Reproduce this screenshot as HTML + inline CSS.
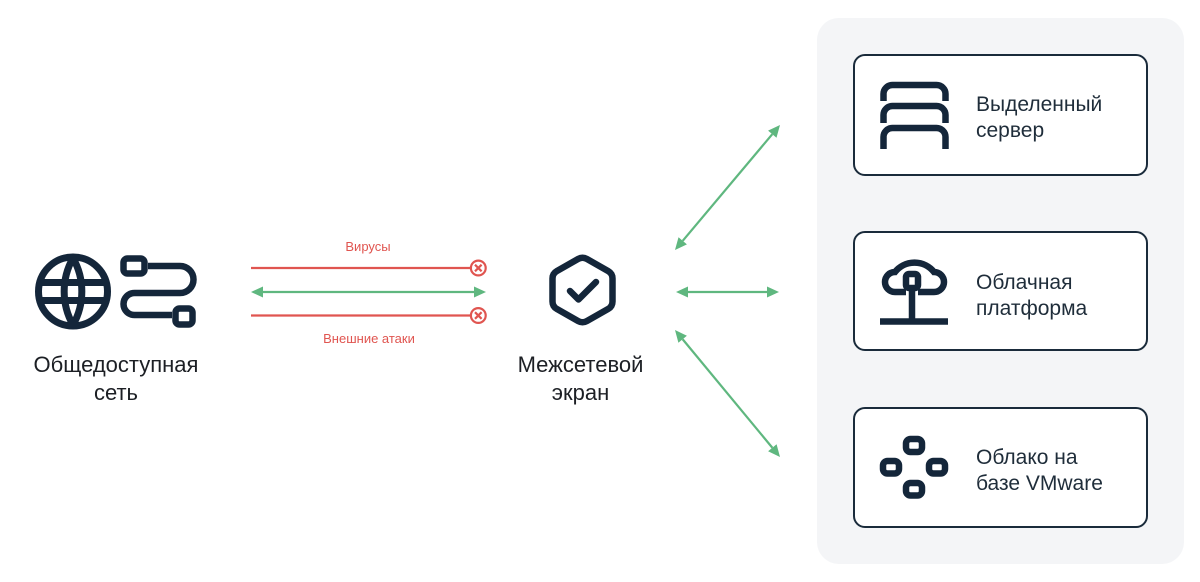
<!DOCTYPE html>
<html>
<head>
<meta charset="utf-8">
<style>
  html,body{margin:0;padding:0;background:#ffffff;}
  body{width:1200px;height:582px;overflow:hidden;}
  svg{display:block;}
  .lbl{font-family:"Liberation Sans","DejaVu Sans",sans-serif;font-size:22px;fill:#1c1f24;}
  .box{font-family:"Liberation Sans","DejaVu Sans",sans-serif;font-size:21px;fill:#1f2d3a;}
  .red{font-family:"Liberation Sans","DejaVu Sans",sans-serif;font-size:13px;fill:#e05550;}
</style>
</head>
<body>
<svg width="1200" height="582" viewBox="0 0 1200 582" xmlns="http://www.w3.org/2000/svg">
  <!-- right panel -->
  <rect x="817" y="18" width="367" height="546" rx="22" fill="#f4f5f7"/>
  <rect x="854" y="55" width="293" height="120" rx="11" fill="#ffffff" stroke="#1a2b3b" stroke-width="2"/>
  <rect x="854" y="232" width="293" height="118" rx="11" fill="#ffffff" stroke="#1a2b3b" stroke-width="2"/>
  <rect x="854" y="408" width="293" height="119" rx="11" fill="#ffffff" stroke="#1a2b3b" stroke-width="2"/>

  <g fill="none" stroke="#14263a" stroke-width="6.5">
    <!-- server icon -->
    <path d="M883.5,101 V94 A9,9 0 0 1 892.5,85 H936.5 A9,9 0 0 1 945.5,94 V101"/>
    <path d="M883.5,123 V115 A9,9 0 0 1 892.5,106 H936.5 A9,9 0 0 1 945.5,115 V123"/>
    <path d="M883.5,149 V137 A9,9 0 0 1 892.5,128 H936.5 A9,9 0 0 1 945.5,137 V149"/>
    <!-- cloud icon -->
    <path d="M906,292 H895 A10,10 0 0 1 895,272 A25,25 0 0 1 934,272 A10,10 0 0 1 934,292 H918"/>
    <rect x="906" y="274" width="12" height="14" rx="3"/>
    <path d="M912,291 V321"/>
    <path d="M880,321.5 H948"/>
    <!-- vmware icon -->
    <rect x="906" y="439" width="16" height="13" rx="4.5"/>
    <rect x="883" y="461" width="16" height="12.5" rx="4.5"/>
    <rect x="929" y="461" width="16" height="12.5" rx="4.5"/>
    <rect x="906" y="483" width="16" height="12.5" rx="4.5"/>
  </g>

  <text class="box" x="976" y="111">Выделенный</text>
  <text class="box" x="976" y="137">сервер</text>
  <text class="box" x="976" y="289">Облачная</text>
  <text class="box" x="976" y="315">платформа</text>
  <text class="box" x="976" y="464">Облако на</text>
  <text class="box" x="976" y="490">базе VMware</text>

  <!-- globe + path icon -->
  <g fill="none" stroke="#14263a" stroke-width="7" stroke-linejoin="round">
    <circle cx="73" cy="291.5" r="34.5"/>
    <path d="M73,258 A68,68 0 0 0 73,325 A68,68 0 0 0 73,258"/>
    <path d="M39,282.5 H107 M39,300.5 H107"/>
  </g>
  <g fill="none" stroke="#14263a" stroke-width="6.5">
    <rect x="123.5" y="258.5" width="21" height="15" rx="4"/>
    <path d="M148,266 H180 A13.5,13.5 0 0 1 180,293 H134.5 A11,11 0 0 0 134.5,315 H172"/>
    <rect x="175.5" y="308.5" width="17" height="16" rx="4"/>
  </g>
  <text class="lbl" x="116" y="372" text-anchor="middle">Общедоступная</text>
  <text class="lbl" x="116" y="400" text-anchor="middle">сеть</text>

  <!-- firewall icon -->
  <g fill="none" stroke="#14263a" stroke-width="6.5" stroke-linejoin="round" stroke-linecap="round">
    <path d="M578.15,258.96 Q582.5,256.5 586.85,258.96 L608.15,271.04 Q612.5,273.5 612.5,278.5 L612.5,301.5 Q612.5,306.5 608.15,308.96 L586.85,321.04 Q582.5,323.5 578.15,321.04 L556.85,308.96 Q552.5,306.5 552.5,301.5 L552.5,278.5 Q552.5,273.5 556.85,271.04 Z"/>
    <polyline points="570,291 578.5,299.5 596,282"/>
  </g>
  <text class="lbl" x="580.5" y="372" text-anchor="middle">Межсетевой</text>
  <text class="lbl" x="580.5" y="400" text-anchor="middle">экран</text>

  <!-- red blocked lines -->
  <g stroke="#e05550" stroke-width="2.2" fill="none">
    <line x1="251" y1="268" x2="471" y2="268"/>
    <line x1="251" y1="315.5" x2="471" y2="315.5"/>
    <circle cx="478.3" cy="268" r="7.4" fill="#ffffff"/>
    <circle cx="478.3" cy="315.5" r="7.4" fill="#ffffff"/>
    <path d="M475,264.7 L481.6,271.3 M481.6,264.7 L475,271.3"/>
    <path d="M475,312.2 L481.6,318.8 M481.6,312.2 L475,318.8"/>
  </g>
  <text class="red" x="368" y="251" text-anchor="middle">Вирусы</text>
  <text class="red" x="369" y="343" text-anchor="middle">Внешние атаки</text>

  <!-- green arrows -->
  <g stroke="#5fb77f" stroke-width="2.2" fill="none">
    <line x1="262" y1="292" x2="475" y2="292"/>
    <line x1="687" y1="292" x2="768" y2="292"/>
    <line x1="682.72" y1="240.81" x2="772.28" y2="134.19"/>
    <line x1="682.65" y1="339.25" x2="772.35" y2="447.75"/>
  </g>
  <g fill="#5fb77f">
    <polygon points="251,292 263,286.5 263,297.5"/>
    <polygon points="486,292 474,286.5 474,297.5"/>
    <polygon points="676,292 688,286.5 688,297.5"/>
    <polygon points="779,292 767,286.5 767,297.5"/>
    <polygon points="780,125 776.49,137.73 768.07,130.65"/>
    <polygon points="675,250 686.93,244.35 678.51,237.27"/>
    <polygon points="780,457 768.11,451.25 776.59,444.25"/>
    <polygon points="675,330 678.41,342.75 686.89,335.75"/>
  </g>
</svg>
</body>
</html>
